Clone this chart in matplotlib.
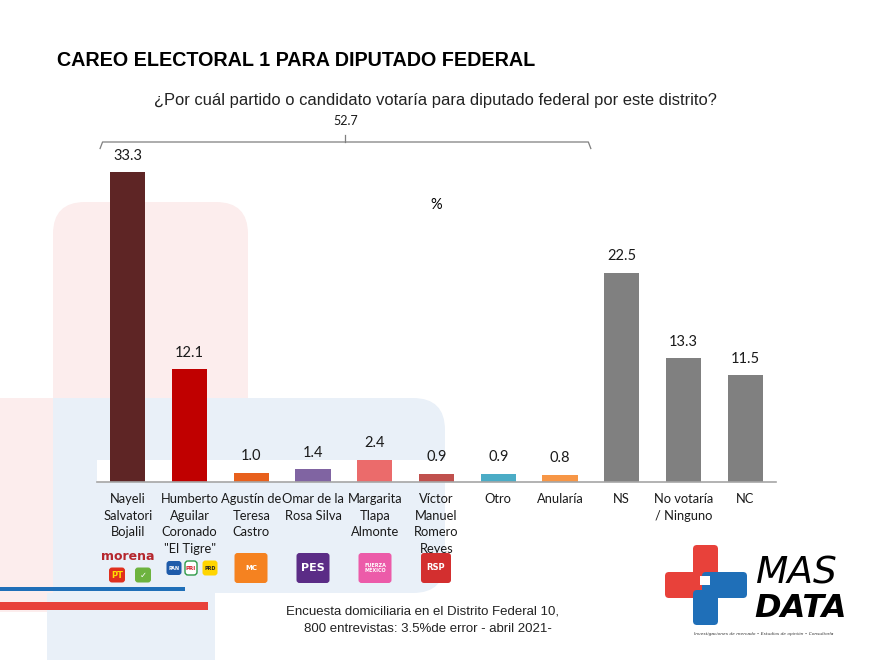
import numpy as np
import matplotlib
matplotlib.use("Agg")
import matplotlib.pyplot as plt
from matplotlib.patches import Rectangle, FancyBboxPatch

# data
categories = ["Nayeli\nSalvatori\nBojalil", "Humberto\nAguilar\nCoronado\n\"El Tigre\"",
              "Agustín de\nTeresa\nCastro", "Omar de la\nRosa Silva", "Margarita\nTlapa\nAlmonte",
              "Víctor\nManuel\nRomero\nReyes", "Otro", "Anularía", "NS", "No votaría\n/ Ninguno", "NC"]
values = [33.3, 12.1, 1.0, 1.4, 2.4, 0.9, 0.9, 0.8, 22.5, 13.3, 11.5]
bar_colors = ["#5E2525", "#C00000", "#E8601C", "#8064A2", "#EB6B6B", "#C0504D",
              "#4BACC6", "#F79646", "#808080", "#808080", "#808080"]
bracket_total = "52.7"

W, H = 890, 660
fig = plt.figure(figsize=(W / 100, H / 100), dpi=100)

# background decorations in pixel coordinates
bg = fig.add_axes([0, 0, 1, 1], zorder=0)
bg.set_xlim(0, W)
bg.set_ylim(H, 0)
bg.axis("off")

pink = "#FCEDED"
blue = "#E9F0F8"
bg.add_patch(FancyBboxPatch((53, 202), 195, 391, boxstyle="round,pad=0,rounding_size=32",
                            fc=pink, ec="none"))
bg.add_patch(Rectangle((0, 398), 53, 214, fc=pink, ec="none"))
bg.add_patch(FancyBboxPatch((53, 398), 392, 195, boxstyle="round,pad=0,rounding_size=32",
                            fc=blue, ec="none"))
bg.add_patch(Rectangle((53, 398), 60, 195, fc=blue, ec="none"))
bg.add_patch(Rectangle((47, 593), 168, 67, fc=blue, ec="none"))
bg.add_patch(Rectangle((97, 460), 350, 22, fc="white", ec="none"))

# stripes bottom left
bg.add_patch(Rectangle((0, 587), 185, 4, fc="#1F6FB8", ec="none"))
bg.add_patch(Rectangle((0, 602), 208, 8, fc="#E8413A", ec="none"))

# titles
fig.text(57 / W, 1 - 60 / H, "CAREO ELECTORAL 1 PARA DIPUTADO FEDERAL", fontsize=14.2,
         fontweight="bold", family="Liberation Sans", va="center", ha="left")
fig.text(435 / W, 1 - 101 / H,
         "¿Por cuál partido o candidato votaría para diputado federal por este distrito?",
         fontsize=11.9, family="Liberation Sans", va="center", ha="center", color="#222222")
fig.text(436 / W, 1 - 205 / H, "%", fontsize=10.5, family="Lato", ha="center", va="center")

# footer
fig.text(422 / W, 1 - 612 / H, "Encuesta domiciliaria en el Distrito Federal 10,",
         fontsize=9.5, family="Liberation Sans", ha="center", va="center", color="#222222")
fig.text(428 / W, 1 - 629 / H, "800 entrevistas: 3.5%de error - abril 2021-",
         fontsize=9.5, family="Liberation Sans", ha="center", va="center", color="#222222")

# main chart
left_px, right_px, base_px, ppu = 97, 776, 482, 9.31
ymax = 40
ax = fig.add_axes([left_px / W, (H - base_px) / H, (right_px - left_px) / W, ymax * ppu / H],
                  zorder=2)
ax.patch.set_alpha(0)
x = np.arange(len(values))
ax.bar(x, values, width=0.57, color=bar_colors)
ax.set_xlim(-0.5, len(values) - 0.5)
ax.set_ylim(0, ymax)
for s in ["top", "right", "left"]:
    ax.spines[s].set_visible(False)
ax.spines["bottom"].set_color("#A6A6A6")
ax.spines["bottom"].set_linewidth(1.2)
ax.set_yticks([])
ax.set_xticks(x)
ax.set_xticklabels(categories, fontsize=9.3, family="Lato", va="top", linespacing=1.45,
                   color="#1a1a1a")
ax.tick_params(axis="x", length=0, pad=8)
for xi, v in zip(x, values):
    ax.text(xi, v + 1.0, f"{v:.1f}", ha="center", va="bottom", fontsize=10.5,
            family="Lato", color="#1a1a1a")

# bracket over the candidates
by = (base_px - 142) / ppu
bx0, bx1 = -0.45, 7.5
mid = (bx0 + bx1) / 2
ax.plot([bx0, bx0 + 0.04, bx1 - 0.04, bx1], [by - 0.7, by, by, by - 0.7],
        color="#7F7F7F", lw=0.9, clip_on=False)
ax.plot([mid, mid], [by, by + 0.7], color="#7F7F7F", lw=0.9, clip_on=False)
ax.text(mid, by + 1.6, bracket_total, ha="center", va="bottom", fontsize=9,
        family="Lato", color="#1a1a1a")

# party logos (rough)
lg = fig.add_axes([0, 0, 1, 1], zorder=3)
lg.set_xlim(0, W)
lg.set_ylim(H, 0)
lg.axis("off")
lg.patch.set_alpha(0)


def box(cx, cy, w, h, fc, txt="", tc="white", fs=5, ec="none"):
    lg.add_patch(FancyBboxPatch((cx - w / 2, cy - h / 2), w, h,
                                boxstyle="round,pad=0,rounding_size=3", fc=fc, ec=ec))
    if txt:
        lg.text(cx, cy, txt, ha="center", va="center", fontsize=fs, color=tc,
                fontweight="bold", family="DejaVu Sans")


lg.text(128, 556, "morena", ha="center", va="center", fontsize=9, color="#B5262D",
        fontweight="bold", family="DejaVu Sans")
box(117, 575, 16, 15, "#E0301E", "PT", tc="#FFE100", fs=6)
box(143, 575, 16, 15, "#6DB33F", "✓", fs=6)
box(174, 568, 15, 14, "#1E5BAA", "PAN", fs=3.5)
box(191, 568, 12, 14, "white", "PRI", tc="#D5232F", fs=4, ec="#2E9A47")
box(210, 568, 15, 15, "#FFD500", "PRD", tc="#222222", fs=3.5)
box(251, 568, 33, 30, "#F58220", "MC", fs=5)
box(313, 568, 33, 30, "#5B2C86", "PES", fs=8)
box(375, 568, 33, 30, "#EC5BA9", "FUERZA\nMÉXICO", fs=3.5)
box(436, 568, 30, 30, "#D32F2F", "RSP", fs=6)

# MAS DATA logo
red = "#E8413A"
blu = "#1F6FB8"
lg.add_patch(FancyBboxPatch((693, 545), 25, 40, boxstyle="round,pad=0,rounding_size=4",
                            fc=red, ec="none"))
lg.add_patch(FancyBboxPatch((665, 572), 45, 26, boxstyle="round,pad=0,rounding_size=4",
                            fc=red, ec="none"))
lg.add_patch(FancyBboxPatch((702, 572), 45, 26, boxstyle="round,pad=0,rounding_size=4",
                            fc=blu, ec="none"))
lg.add_patch(FancyBboxPatch((693, 590), 25, 35, boxstyle="round,pad=0,rounding_size=4",
                            fc=blu, ec="none"))
lg.add_patch(Rectangle((700, 576), 10, 9, fc="white", ec="none"))
lg.text(756, 592, "MAS", ha="left", va="bottom", fontsize=27, style="italic",
        family="DejaVu Sans", fontweight="light", color="black")
lg.text(754, 593, "DATA", ha="left", va="top", fontsize=23, style="italic",
        family="DejaVu Sans", fontweight="bold", color="black")
lg.text(764, 634, "Investigaciones de mercado • Estudios de opinión • Consultoría",
        ha="center", va="center", fontsize=3.2, style="italic", color="#333333")

fig.savefig("out.png", dpi=100)
